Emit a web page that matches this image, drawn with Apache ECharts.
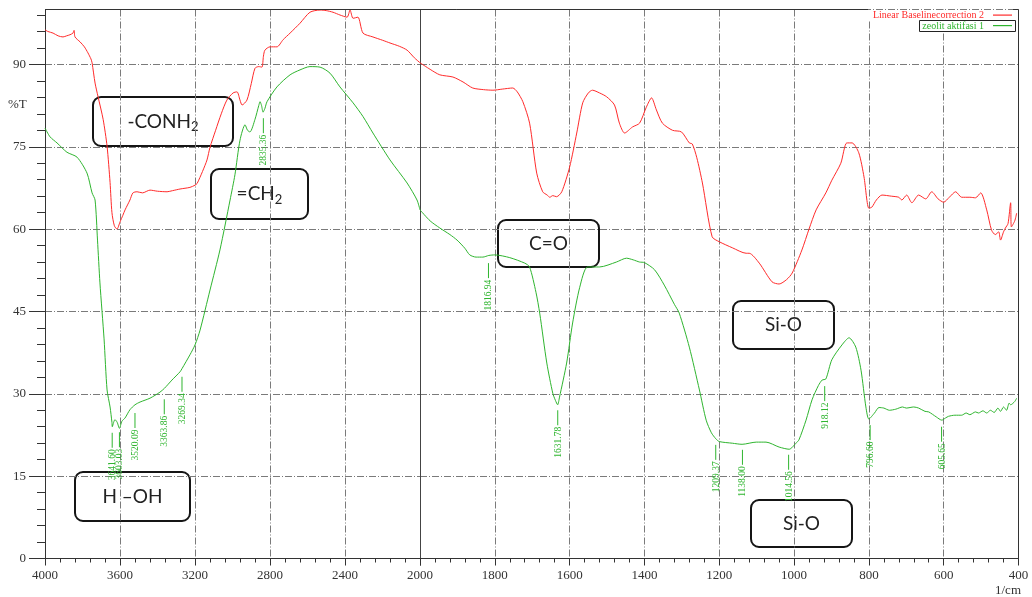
<!DOCTYPE html>
<html>
<head>
<meta charset="utf-8">
<title>FTIR zeolit aktifasi</title>
<script src="https://cdn.jsdelivr.net/npm/echarts@6/dist/echarts.min.js"></script>
<style>
  html, body { margin: 0; padding: 0; background: #fff; }
  #chart { width: 1032px; height: 597px; }
</style>
</head>
<body>
<div id="chart"></div>
<script>
// Spectrum of the activated zeolite: [wavenumber (1/cm), %T]
const zeolitSpectrum = [
  [4000,78.4],[3973,76.8],[3936,75.7],[3883,74.0],[3829,73.1],[3776,70.2],[3749,66.6],[3733,65.3],
  [3720,58.0],[3707,50.2],[3685,40.0],[3669,30.7],[3653,27.6],[3643,24.8],[3641,24.0],[3634,24.8],
  [3627,25.3],[3615,24.8],[3603,23.7],[3590,25.0],[3573,25.6],[3547,27.1],[3520,28.0],[3493,28.5],
  [3440,29.2],[3387,30.3],[3363,31.0],[3323,32.5],[3280,34.0],[3269,34.6],[3227,37.1],[3200,38.9],
  [3173,41.6],[3120,48.9],[3067,56.2],[3013,65.3],[2987,69.9],[2960,76.2],[2933,79.0],[2920,78.0],
  [2907,77.7],[2880,80.0],[2860,82.5],[2853,83.2],[2845,82.5],[2837,81.3],[2827,82.0],[2816,83.2],
  [2763,85.9],[2693,88.1],[2640,89.0],[2587,89.6],[2533,89.5],[2480,88.4],[2427,85.9],[2357,83.0],
  [2304,80.5],[2251,77.5],[2160,72.6],[2069,68.4],[2016,65.3],[2000,63.5],
  [1973,61.5],[1947,60.2],[1920,59.0],[1901,58.0],[1880,56.5],[1867,55.3],[1850,54.9],[1832,54.9],
  [1816,55.2],[1800,55.3],[1760,54.8],[1720,53.8],[1707,53.1],[1690,48.5],[1680,44.7],[1661,35.6],
  [1645,30.1],[1638,28.8],[1632,28.0],[1627,29.4],[1608,35.6],[1592,42.9],[1573,49.4],[1552,53.1],
  [1520,53.1],[1475,54.0],[1448,54.7],[1430,54.4],[1413,54.0],[1400,53.9],[1373,52.6],[1347,49.8],
  [1320,46.3],[1307,44.7],[1280,38.5],[1253,30.7],[1235,25.2],[1221,22.9],[1209,21.8],[1200,21.3],
  [1165,21.0],[1139,20.8],[1101,21.2],[1075,21.2],[1040,20.3],[1013,19.9],[995,21.0],[987,21.6],
  [968,25.2],[952,28.9],[935,31.5],[925,32.5],[915,32.7],[899,36.2],[872,38.9],[853,40.2],
  [835,38.5],[821,34.3],[808,27.6],[800,25.4],[785,26.5],[773,27.5],[760,27.4],[745,27.0],
  [728,27.2],[710,27.6],[700,27.4],[680,27.6],[667,27.4],[650,26.8],[640,26.7],[620,25.8],
  [605,25.2],[595,25.6],[587,25.9],[570,26.1],[552,26.1],[540,26.5],[530,26.2],[515,26.7],
  [507,26.5],[495,26.9],[485,26.5],[475,27.0],[465,26.6],[455,27.4],[448,26.8],[440,27.6],
  [432,27.0],[425,28.3],[421,28.0],[410,28.6],[405,29.2]
];

// Linear baseline-corrected spectrum: [wavenumber (1/cm), %T]
const baselineSpectrum = [
  [4000,96.3],[3985,96.0],[3957,95.7],[3930,95.2],[3904,95.0],[3885,95.2],[3867,95.4],[3851,95.7],
  [3845,96.2],[3840,95.0],[3813,94.1],[3790,93.2],[3771,92.1],[3755,91.0],[3749,90.3],[3733,86.6],
  [3717,84.1],[3690,80.0],[3669,75.1],[3653,68.5],[3643,63.0],[3630,60.6],[3616,60.0],[3600,61.3],
  [3585,62.5],[3573,63.5],[3547,65.3],[3531,66.6],[3509,66.8],[3480,66.6],[3440,67.1],[3400,66.9],
  [3349,66.8],[3320,67.0],[3280,67.3],[3227,67.6],[3200,68.0],[3189,68.3],[3160,70.5],[3136,72.6],
  [3120,74.9],[3090,78.0],[3060,81.0],[3030,83.5],[2997,84.8],[2976,85.0],[2960,83.5],[2949,82.6],
  [2923,83.5],[2900,86.5],[2880,89.3],[2860,89.6],[2843,89.5],[2835,91.5],[2827,92.6],[2800,93.2],
  [2763,93.2],[2730,94.5],[2693,95.7],[2640,97.5],[2587,99.5],[2533,99.9],[2500,99.8],[2464,99.5],
  [2427,99.0],[2389,98.6],[2373,99.9],[2357,98.4],[2331,98.6],[2304,95.7],[2251,95.0],[2200,94.4],
  [2160,93.9],[2110,93.3],[2069,92.6],[2030,91.2],[2000,90.3],
  [1973,89.1],[1947,88.1],[1912,87.7],[1885,86.8],[1859,85.7],[1830,85.4],[1805,85.3],[1780,85.5],
  [1752,85.7],[1740,85.0],[1725,83.2],[1707,79.3],[1688,70.2],[1672,66.8],[1660,66.2],[1653,65.8],
  [1645,66.1],[1635,65.9],[1621,66.8],[1600,71.3],[1581,77.5],[1565,83.0],[1550,84.8],[1539,85.3],
  [1520,84.8],[1501,84.1],[1480,82.6],[1467,79.3],[1453,77.5],[1432,78.6],[1413,79.3],[1395,82.2],
  [1381,83.9],[1368,81.7],[1352,79.3],[1325,78.0],[1301,77.7],[1280,75.7],[1272,75.5],[1260,73.0],
  [1245,68.4],[1219,58.6],[1200,57.7],[1165,56.6],[1128,55.6],[1120,55.6],[1093,53.8],[1059,50.4],
  [1040,50.0],[1020,50.8],[1005,52.0],[979,56.2],[960,60.0],[941,63.5],[915,66.6],[899,68.9],
  [875,72.0],[859,75.7],[845,75.7],[827,73.9],[813,69.5],[800,63.8],[792,64.0],[780,65.3],
  [765,66.2],[740,66.0],[720,65.8],[712,65.3],[699,66.2],[685,64.8],[667,66.2],[648,65.5],
  [632,66.8],[615,65.5],[600,64.9],[585,65.8],[568,66.8],[552,65.8],[530,65.8],[515,65.7],
  [501,66.6],[485,63.5],[472,59.8],[462,59.0],[453,59.5],[448,58.0],[440,59.5],[435,60.2],
  [428,61.0],[421,64.8],[419,60.4],[410,61.5],[405,62.9]
];

// Peak picks on the zeolite spectrum and the %T where each marker starts
const peakWavenumbers = [3641.60, 3603.03, 3520.09, 3363.86, 3269.34, 2835.36, 1816.94,
                         1631.78, 1209.37, 1138.00, 1014.56, 918.12, 796.60, 605.65];
const peakMarkerT = [22.9, 23.0, 26.5, 29.0, 33.1, 80.2, 53.8, 27.0, 20.7, 19.8, 18.9, 31.4, 24.3, 24.0];

// Axis ticks
const wavenumberLabelsHigh = [4000, 3600, 3200, 2800, 2400, 2000];
const wavenumberLabelsLow = [1800, 1600, 1400, 1200, 1000, 800, 600, 400];
const transmittanceLabels = [0, 15, 30, 45, 60, 75, 90];
const transmittanceMinor = [3, 6, 9, 12, 18, 21, 24, 27, 33, 36, 39, 42, 48, 51, 54, 57,
                            63, 66, 69, 72, 78, 81, 84, 87, 93, 96, 99];

// Series names
const seriesNames = ['Linear Baselinecorrection 2', 'zeolit aktifasi 1'];

const RED = '#ff2b2b';
const GREEN = '#2fb52f';
const AXIS = '#333';
const SERIF = '"Liberation Serif", "DejaVu Serif", serif';
const SANS = 'Lato, "Open Sans", "Noto Sans", sans-serif';
const GRID_LINE = { color: '#7a7a7a', width: 1, type: [7, 2, 1, 2] };

const highRange = d => d.filter(p => p[0] >= 2000);
const lowRange = d => d.filter(p => p[0] <= 2000);

const peaks = peakWavenumbers.map((w, i) => [w, peakMarkerT[i]]);

// Peak marker: short vertical stroke with the wavenumber written upwards beneath it
function renderPeak(params, api) {
  const w = api.value(0);
  const p = api.coord([w, api.value(1)]);
  const len = 15;
  return {
    type: 'group',
    children: [
      { type: 'line', shape: { x1: p[0], y1: p[1], x2: p[0], y2: p[1] + len },
        style: { stroke: GREEN, lineWidth: 1 } },
      { type: 'text', x: p[0] + 0.5, y: p[1] + len + 1.5, rotation: Math.PI / 2,
        style: { text: w.toFixed(2), fill: GREEN, font: '9.5px ' + SERIF,
                 align: 'right', verticalAlign: 'middle' } }
    ]
  };
}

function xAxisFor(grid, min, max, interval, labels) {
  return {
    gridIndex: grid, type: 'value', min: min, max: max, interval: interval, inverse: true,
    axisLine: { show: true, lineStyle: { color: AXIS, width: 1 } },
    axisTick: { show: true, length: 7, lineStyle: { color: AXIS } },
    minorTick: { show: true, splitNumber: 5, length: 4, lineStyle: { color: AXIS } },
    axisLabel: { customValues: labels, formatter: v => String(v),
                 fontFamily: SERIF, fontSize: 13, color: '#333', margin: 11 },
    splitLine: { show: true, lineStyle: GRID_LINE },
    minorSplitLine: { show: false }
  };
}

function lineSeries(name, color, data, idx) {
  return {
    type: 'line', name: name, data: data, xAxisIndex: idx, yAxisIndex: idx,
    showSymbol: false, symbol: 'none', smooth: 0.25,
    lineStyle: { color: color, width: 1 }, itemStyle: { color: color },
    emphasis: { disabled: true }, z: 3
  };
}

function noteBox(x, y, w, h, text, rich) {
  return {
    type: 'group', z: 60,
    children: [
      { type: 'rect', shape: { x: x, y: y, width: w, height: h, r: 8 },
        style: { fill: '#fff', stroke: '#151515', lineWidth: 2 } },
      { type: 'text', x: x + w / 2, y: y + h / 2,
        style: { text: text, rich: rich, fill: '#222', font: '19px ' + SANS,
                 align: 'center', verticalAlign: 'middle',
                 textAlign: 'center', textVerticalAlign: 'middle' } }
    ]
  };
}

const subRich = {
  m: { fontSize: 19, fontFamily: SANS, color: '#222', lineHeight: 24 },
  s: { fontSize: 13, fontFamily: SANS, color: '#222', lineHeight: 12, verticalAlign: 'bottom' }
};
const plainRich = { m: { fontSize: 19, fontFamily: SANS, color: '#222' } };

const chart = echarts.init(document.getElementById('chart'), null, { renderer: 'canvas' });

const option = {
  animation: false,
  backgroundColor: '#fff',
  grid: [
    { left: 45, top: 9.5, width: 375, bottom: 38.5 },
    { left: 420, top: 9.5, right: 13.5, bottom: 38.5 }
  ],
  xAxis: [
    xAxisFor(0, 2000, 4000, 400, wavenumberLabelsHigh),
    xAxisFor(1, 400, 2000, 200, wavenumberLabelsLow)
  ],
  yAxis: [
    { gridIndex: 0, type: 'value', min: 0, max: 100, interval: 15, position: 'left',
      axisLine: { show: true, lineStyle: { color: AXIS } },
      axisTick: { show: true, length: 16, customValues: transmittanceLabels, lineStyle: { color: AXIS } },
      axisLabel: { customValues: transmittanceLabels, fontFamily: SERIF, fontSize: 13, color: '#333', margin: 19 },
      splitLine: { show: true, lineStyle: GRID_LINE } },
    { gridIndex: 1, type: 'value', min: 0, max: 100, interval: 15, position: 'left',
      axisLine: { show: true, lineStyle: { color: '#444', width: 1 } },
      axisTick: { show: false }, axisLabel: { show: false },
      splitLine: { show: true, lineStyle: GRID_LINE } },
    { gridIndex: 0, type: 'value', min: 0, max: 100, position: 'left', offset: 0,
      axisLine: { show: false },
      axisTick: { show: true, length: 8, customValues: transmittanceMinor, lineStyle: { color: AXIS } },
      axisLabel: { show: false }, splitLine: { show: false } }
  ],
  series: [
    lineSeries(seriesNames[0], RED, highRange(baselineSpectrum), 0),
    lineSeries(seriesNames[0], RED, lowRange(baselineSpectrum), 1),
    lineSeries(seriesNames[1], GREEN, highRange(zeolitSpectrum), 0),
    lineSeries(seriesNames[1], GREEN, lowRange(zeolitSpectrum), 1),
    { type: 'custom', xAxisIndex: 0, yAxisIndex: 0, renderItem: renderPeak, clip: false, z: 4,
      data: peaks.filter(p => p[0] > 2000) },
    { type: 'custom', xAxisIndex: 1, yAxisIndex: 1, renderItem: renderPeak, clip: false, z: 4,
      data: peaks.filter(p => p[0] < 2000) }
  ],
  graphic: { elements: [
    // legend area background and plot frame
    { type: 'rect', z: 40, shape: { x: 868, y: 10, width: 148, height: 10 }, style: { fill: '#fff' } },
    { type: 'rect', z: 40, shape: { x: 919, y: 20, width: 97, height: 12 }, style: { fill: '#fff' } },
    { type: 'line', z: 41, shape: { x1: 45, y1: 9.5, x2: 868, y2: 9.5 }, style: { stroke: AXIS, lineWidth: 1 } },
    { type: 'line', z: 41, shape: { x1: 1013, y1: 9.5, x2: 1018.5, y2: 9.5 }, style: { stroke: AXIS, lineWidth: 1 } },
    { type: 'line', z: 41, shape: { x1: 1018.5, y1: 9.5, x2: 1018.5, y2: 558.5 }, style: { stroke: AXIS, lineWidth: 1 } },
    // legend
    { type: 'text', z: 42, x: 984, y: 15, style: { text: seriesNames[0], fill: RED, font: '10px ' + SERIF,
      align: 'right', verticalAlign: 'middle', textAlign: 'right', textVerticalAlign: 'middle' } },
    { type: 'rect', z: 42, shape: { x: 993, y: 14.5, width: 19, height: 1.2 }, style: { fill: RED } },
    { type: 'rect', z: 42, shape: { x: 919.5, y: 20.5, width: 96, height: 11 }, style: { fill: 'none', stroke: '#222', lineWidth: 1 } },
    { type: 'text', z: 42, x: 984, y: 26, style: { text: seriesNames[1], fill: GREEN, font: '10px ' + SERIF,
      align: 'right', verticalAlign: 'middle', textAlign: 'right', textVerticalAlign: 'middle' } },
    { type: 'rect', z: 42, shape: { x: 993, y: 25, width: 19, height: 1.2 }, style: { fill: GREEN } },
    // axis titles
    { type: 'text', z: 42, x: 8, y: 105, style: { text: '%T', fill: '#333', font: '13px ' + SERIF,
      align: 'left', verticalAlign: 'middle', textAlign: 'left', textVerticalAlign: 'middle' } },
    { type: 'text', z: 42, x: 1021, y: 591, style: { text: '1/cm', fill: '#333', font: '13px ' + SERIF,
      align: 'right', verticalAlign: 'middle', textAlign: 'right', textVerticalAlign: 'middle' } },
    // band assignments
    noteBox(93, 97, 140, 49, '{m|-CONH}{s|2}', subRich),
    noteBox(211, 169, 97, 50, '{m|=CH}{s|2}', subRich),
    noteBox(498, 220, 101, 47, '{m|C=O}', plainRich),
    noteBox(733, 301, 101, 48, '{m|Si-O}', plainRich),
    noteBox(75, 472, 115, 49, '{m|H \u2013OH}', plainRich),
    noteBox(751, 500, 101, 47, '{m|Si-O}', plainRich)
  ] }
};

chart.setOption(option);
</script>
</body>
</html>
